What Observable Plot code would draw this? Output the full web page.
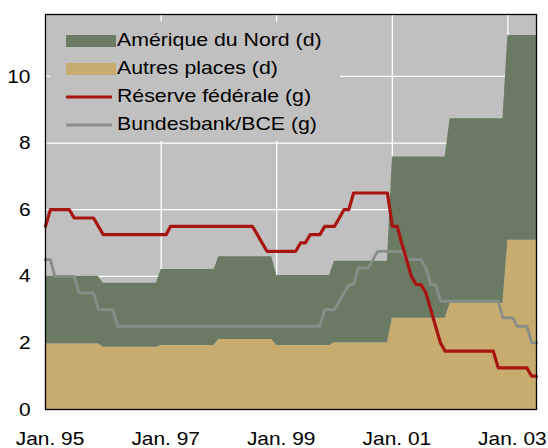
<!DOCTYPE html>
<html>
<head>
<meta charset="utf-8">
<script src="https://cdn.jsdelivr.net/npm/d3@7"></script>
<script src="https://cdn.jsdelivr.net/npm/@observablehq/plot@0.6"></script>
<style>
  html, body { margin: 0; padding: 0; background: white; }
  #chart { width: 548px; height: 448px; }
</style>
</head>
<body>
<div id="chart"></div>
<script>
// ---- Data ----
const years = [1995, 1996, 1997, 1998, 1999, 2000, 2001, 2002, 2003];
// stacked areas (right axis, "d")
const autresPlaces   = [1.97, 1.87, 1.92, 2.10, 1.92, 2.00, 2.74, 3.19, 5.08];
const ameriqueDuNord = [2.03, 1.92, 2.28, 2.49, 2.10, 2.45, 4.84, 5.54, 6.15];

// monthly policy rates, Jan 1995 .. Jul 2003 (left axis, "g")
const reserveFederale = [
  5.5, 6, 6, 6, 6, 6, 5.75, 5.75, 5.75, 5.75, 5.75, 5.5,            // 1995
  5.25, 5.25, 5.25, 5.25, 5.25, 5.25, 5.25, 5.25, 5.25, 5.25, 5.25, 5.25, // 1996
  5.25, 5.25, 5.5, 5.5, 5.5, 5.5, 5.5, 5.5, 5.5, 5.5, 5.5, 5.5,     // 1997
  5.5, 5.5, 5.5, 5.5, 5.5, 5.5, 5.5, 5.5, 5.25, 5.0, 4.75, 4.75,    // 1998
  4.75, 4.75, 4.75, 4.75, 4.75, 5.0, 5.0, 5.25, 5.25, 5.25, 5.5, 5.5, // 1999
  5.5, 5.75, 6.0, 6.0, 6.5, 6.5, 6.5, 6.5, 6.5, 6.5, 6.5, 6.5,      // 2000
  5.5, 5.5, 5.0, 4.5, 4.0, 3.75, 3.75, 3.5, 3.0, 2.5, 2.0, 1.75,    // 2001
  1.75, 1.75, 1.75, 1.75, 1.75, 1.75, 1.75, 1.75, 1.75, 1.75, 1.25, 1.25, // 2002
  1.25, 1.25, 1.25, 1.25, 1.25, 1.0, 1.0                            // 2003
];
const bundesbankBCE = [
  4.5, 4.5, 4.0, 4.0, 4.0, 4.0, 4.0, 3.5, 3.5, 3.5, 3.5, 3.0,       // 1995
  3.0, 3.0, 3.0, 2.5, 2.5, 2.5, 2.5, 2.5, 2.5, 2.5, 2.5, 2.5,       // 1996
  2.5, 2.5, 2.5, 2.5, 2.5, 2.5, 2.5, 2.5, 2.5, 2.5, 2.5, 2.5,       // 1997
  2.5, 2.5, 2.5, 2.5, 2.5, 2.5, 2.5, 2.5, 2.5, 2.5, 2.5, 2.5,       // 1998
  2.5, 2.5, 2.5, 2.5, 2.5, 2.5, 2.5, 2.5, 2.5, 2.5, 3.0, 3.0,       // 1999
  3.0, 3.25, 3.5, 3.75, 3.75, 4.25, 4.25, 4.25, 4.5, 4.75, 4.75, 4.75, // 2000
  4.75, 4.75, 4.75, 4.5, 4.5, 4.5, 4.5, 4.25, 3.75, 3.75, 3.25, 3.25, // 2001
  3.25, 3.25, 3.25, 3.25, 3.25, 3.25, 3.25, 3.25, 3.25, 3.25, 3.25, 2.75, // 2002
  2.75, 2.75, 2.5, 2.5, 2.5, 2.0, 2.0                               // 2003
];

const tickYears  = [1995, 1997, 1999, 2001, 2003];
const tickLabels = ["Jan. 95", "Jan. 97", "Jan. 99", "Jan. 01", "Jan. 03"];
const yTicks = [0, 2, 4, 6, 8, 10];
const yGrid  = [2, 4, 6, 8, 10];

const seriesNames = ["Amérique du Nord (d)", "Autres places (d)", "Réserve fédérale (g)", "Bundesbank/BCE (g)"];
const colors = {
  bg: "#c0c0c0", green: "#6b7b63", tan: "#c8ab6f", red: "#a8140f", grey: "#878e87"
};

// ---- Tables built from the arrays ----
const startYear = 1995;
const monthDate = i => new Date(Date.UTC(startYear + Math.floor(i / 12), i % 12, 1));
const fedRows = reserveFederale.map((v, i) => ({date: monthDate(i), v}));
const bbRows  = bundesbankBCE.map((v, i) => ({date: monthDate(i), v}));

const areaRows = [];
years.forEach((yr, i) => {
  const lastMonth = yr === 2003 ? 6 : 11;
  for (const m of [0, lastMonth]) {
    areaRows.push({date: new Date(Date.UTC(yr, m, 1)), autres: autresPlaces[i], total: autresPlaces[i] + ameriqueDuNord[i]});
  }
});
const xTicks = tickYears.map(y => new Date(Date.UTC(y, 0, 1)));
const labelOf = d => tickLabels[tickYears.indexOf(d.getUTCFullYear())];

const plot = Plot.plot({
  width: 548,
  height: 448,
  marginLeft: 45,
  marginRight: 12,
  marginTop: 14,
  marginBottom: 39,
  style: {fontFamily: "'Liberation Sans', Arial, sans-serif", fontSize: "19px", background: "white", color: "black", overflow: "visible"},
  x: {type: "utc", domain: [new Date(Date.UTC(1995, 0, 1)), new Date(Date.UTC(2003, 6, 1))]},
  y: {domain: [0, 11.86]},
  marks: [
    Plot.frame({fill: colors.bg}),
    Plot.gridY(yGrid, {stroke: "white", strokeOpacity: 1, strokeWidth: 1.3}),
    Plot.gridX(xTicks, {stroke: "white", strokeOpacity: 1, strokeWidth: 1.3}),
    Plot.areaY(areaRows, {x: "date", y1: 0, y2: "autres", fill: colors.tan}),
    Plot.areaY(areaRows, {x: "date", y1: "autres", y2: "total", fill: colors.green}),
    Plot.lineY(bbRows, {x: "date", y: "v", stroke: colors.grey, strokeWidth: 2.8}),
    Plot.lineY(fedRows, {x: "date", y: "v", stroke: colors.red, strokeWidth: 3.2}),
    Plot.frame({stroke: "black", strokeWidth: 1.3}),
    Plot.axisX(xTicks, {tickSize: 0, tickPadding: 22, tickFormat: labelOf, dx: 4.5, label: null}),
    Plot.axisY(yTicks, {tickSize: 0, tickPadding: 15, label: null})
  ]
});

document.getElementById("chart").appendChild(plot);

// ---- Legend (inside the plot, top-left) ----
const svg = d3.select(plot);
const lg = svg.append("g")
  .attr("font-family", "'Liberation Sans', Arial, sans-serif")
  .attr("font-size", 19)
  .attr("text-anchor", "start");
lg.append("rect").attr("x", 50).attr("y", 21).attr("width", 290).attr("height", 120).attr("fill", colors.bg);
const legendItems = [
  {name: seriesNames[0], kind: "rect", color: colors.green},
  {name: seriesNames[1], kind: "rect", color: colors.tan},
  {name: seriesNames[2], kind: "line", color: colors.red},
  {name: seriesNames[3], kind: "line", color: colors.grey}
];
legendItems.forEach((it, i) => {
  const base = 45.5 + i * 28;
  const cy = base - 4.5;
  if (it.kind === "rect") {
    lg.append("rect").attr("x", 66).attr("y", cy - 6).attr("width", 50).attr("height", 12).attr("fill", it.color);
  } else {
    lg.append("line").attr("x1", 66).attr("x2", 112).attr("y1", cy).attr("y2", cy)
      .attr("stroke", it.color).attr("stroke-width", i === 2 ? 3.2 : 2.8);
  }
  lg.append("text").attr("x", 117).attr("y", base).attr("fill", "black")
    .attr("text-anchor", "start").attr("class", "lgtext").text(it.name);
});

// horizontal stretch of text to match the reference lettering
svg.selectAll("text").each(function() {
  const w = this.getComputedTextLength();
  if (w > 0) {
    const k = this.classList.contains("lgtext") ? 1.12 : 1.1;
    this.setAttribute("textLength", w * k);
    this.setAttribute("lengthAdjust", "spacingAndGlyphs");
  }
});
</script>
</body>
</html>
